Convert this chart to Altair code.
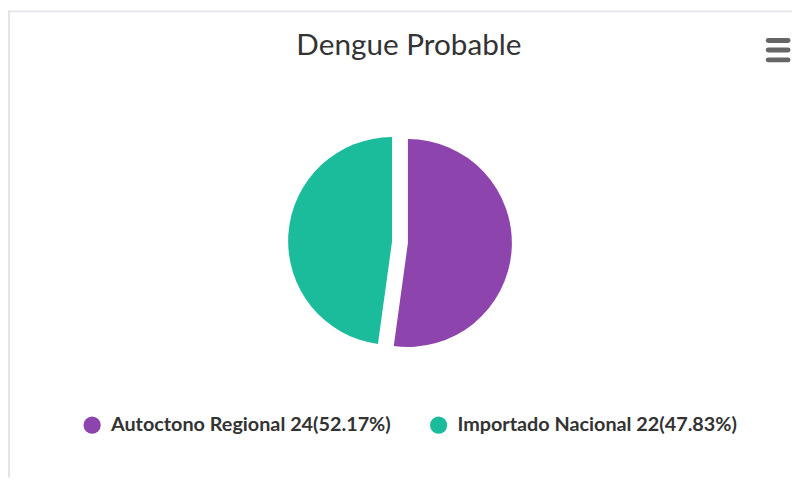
import altair as alt
import pandas as pd

# ---- data ----
title_text = "Dengue Probable"
categories = ["Autoctono Regional", "Importado Nacional"]
values = [24, 22]
colors = ["#8e44ad", "#1abc9c"]

total = sum(values)
labels = [f"{c} {v}({v / total * 100:.2f}%)" for c, v in zip(categories, values)]
df = pd.DataFrame({"category": categories, "value": values, "label": labels,
                   "order": list(range(len(categories)))})
dummy = pd.DataFrame({"i": [0]})

W, H = 792, 472
CX, CY, R = 388, 233, 105

color = alt.Color(
    "label:N",
    scale=alt.Scale(domain=labels, range=colors),
    legend=alt.Legend(
        title=None, orient="none", legendX=75, legendY=409, direction="horizontal",
        symbolType="circle", symbolSize=300, symbolStrokeWidth=0, symbolOpacity=1,
        labelFont="Lato", labelFontSize=20, labelFontWeight="bold", labelColor="#333333",
        labelLimit=600, labelOffset=9, columnPadding=38,
    ),
)

base = (
    alt.Chart(df)
    .transform_joinaggregate(total="sum(value)")
    .transform_window(cum="sum(value)", sort=[alt.SortField("order")], frame=[None, 0])
    .transform_calculate(
        t0="2*PI*(datum.cum-datum.value)/datum.total",
        t1="2*PI*datum.cum/datum.total",
    )
)

def slice_layer(idx, dx, dy):
    return (
        base.transform_filter(alt.datum.order == idx)
        .mark_arc(radius=R, xOffset=dx, yOffset=dy)
        .encode(
            theta=alt.Theta("t0:Q", scale=None),
            theta2="t1:Q",
            color=color,
            x=alt.value(CX),
            y=alt.value(CY),
            tooltip=["category:N", "value:Q"],
        )
    )

purple = slice_layer(0, 16, 2)
teal = slice_layer(1, 0, 0)

title = alt.Chart(dummy).mark_text(
    text=title_text, font="Lato", fontSize=30, color="#333333",
    align="center", baseline="alphabetic",
).encode(x=alt.value(405), y=alt.value(45))

menu = [
    alt.Chart(dummy).mark_rule(color="#666666", strokeWidth=5, strokeCap="round")
    .encode(x=alt.value(768), x2=alt.value(788), y=alt.value(yy))
    for yy in (30.5, 40, 50)
]

border_top = alt.Chart(dummy).mark_rule(color="#e4e5eb", strokeWidth=2).encode(
    x=alt.value(0), x2=alt.value(W), y=alt.value(1))
border_left = alt.Chart(dummy).mark_rule(color="#e4e5eb", strokeWidth=2).encode(
    x=alt.value(1), y=alt.value(0), y2=alt.value(H))

chart = (
    alt.layer(border_top, border_left, teal, purple, title, *menu)
    .properties(width=W, height=H, padding=0, autosize="none")
    .configure_view(stroke=None)
)

chart.save("out.html", embed_options={"renderer": "svg", "actions": False})
